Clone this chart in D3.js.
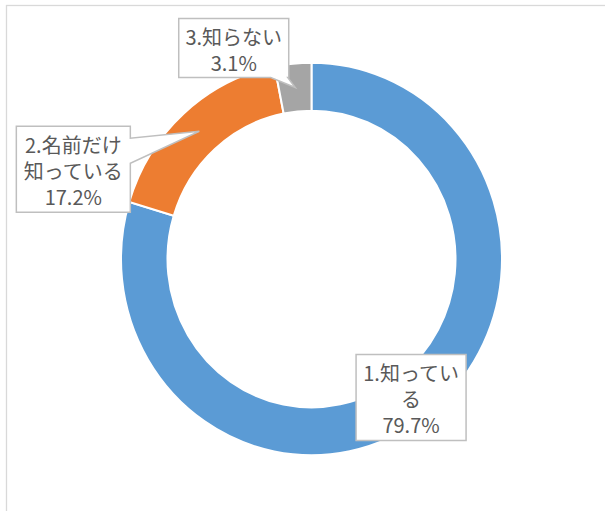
<!DOCTYPE html>
<html>
<head>
<meta charset="utf-8">
<script src="https://cdn.jsdelivr.net/npm/d3@7"></script>
<style>
  html, body { margin: 0; padding: 0; background: #fff; }
  svg { display: block; }
</style>
</head>
<body>
<div id="chart"></div>
<script>
// データ
const categories = ["1.知っている", "2.名前だけ知っている", "3.知らない"];
const values = [79.7, 17.2, 3.1];
const labelLines = [
    ["1.知ってい", "る", "79.7%"],
    ["2.名前だけ", "知っている", "17.2%"],
    ["3.知らない", "3.1%"]
];
const colors = ["#5B9BD5", "#ED7D31", "#A5A5A5"];

const W = 605, H = 511;
const cx = 311.5, cy = 259;
const outerR = 190.5, innerR = 144, yScale = 1.03;

// ラベル枠の配置（重心からのずれ・サイズ・吹き出しの向き）
const labelLayout = [
    { dx: 0, dy: 0, w: 110, h: 86, tail: null },
    { dx: -126, dy: 38, w: 114, h: 86, tail: "right" },
    { dx: -61.5, dy: -39.5, w: 110, h: 59, tail: "bottom" }
];

const svg = d3.select("#chart")
    .append("svg")
    .attr("width", W)
    .attr("height", H);

// 外枠
svg.append("rect")
    .attr("x", 6.5).attr("y", 5.5)
    .attr("width", W + 10).attr("height", H + 10)
    .attr("fill", "#fff")
    .attr("stroke", "#d9d9d9")
    .attr("stroke-width", 1.3);

const data = categories.map((c, i) => ({ name: c, value: values[i], lines: labelLines[i] }));

const pie = d3.pie().value(d => d.value).sort(null);
const arcs = pie(data);

const arc = d3.arc().innerRadius(innerR).outerRadius(outerR);

const g = svg.append("g")
    .attr("transform", `translate(${cx},${cy}) scale(1,${yScale})`);

g.selectAll("path.slice")
    .data(arcs)
    .enter()
    .append("path")
    .attr("class", "slice")
    .attr("d", arc)
    .attr("fill", (d, i) => colors[i])
    .attr("stroke", "#fff")
    .attr("stroke-width", 2);

// 吹き出しラベル
const lg = svg.append("g");

arcs.forEach((a, i) => {
    const c = arc.centroid(a);
    const tip = [cx + c[0], cy + c[1] * yScale];
    const L = labelLayout[i];
    const bx = tip[0] + L.dx, by = tip[1] + L.dy;
    const x0 = bx - L.w / 2, x1 = bx + L.w / 2;
    const y0 = by - L.h / 2, y1 = by + L.h / 2;

    let p = d3.path();
    if (L.tail === "right") {
        p.moveTo(x0, y0); p.lineTo(x1, y0);
        p.lineTo(x1, y0 + 12);
        p.lineTo(tip[0], tip[1]);
        p.lineTo(x1, y0 + 37);
        p.lineTo(x1, y1); p.lineTo(x0, y1);
        p.closePath();
    } else if (L.tail === "bottom") {
        p.moveTo(x0, y0); p.lineTo(x1, y0);
        p.lineTo(x1, y1);
        p.lineTo(x1 - 1, y1);
        p.lineTo(tip[0], tip[1]);
        p.lineTo(x1 - 18, y1);
        p.lineTo(x0, y1);
        p.closePath();
    } else {
        p.rect(x0, y0, L.w, L.h);
    }

    lg.append("path")
        .attr("d", p.toString())
        .attr("fill", "#fff")
        .attr("stroke", "#bfbfbf")
        .attr("stroke-width", 1.5)
        .attr("stroke-linejoin", "miter");

    const lh = 26;
    const n = a.data.lines.length;
    lg.selectAll(null)
        .data(a.data.lines)
        .enter()
        .append("text")
        .attr("x", bx)
        .attr("y", (d, j) => by + 1.5 + (j - (n - 1) / 2) * lh)
        .attr("text-anchor", "middle")
        .attr("dominant-baseline", "central")
        .style("font-family", "'Noto Sans CJK JP', 'Noto Sans', sans-serif")
        .style("font-size", "20px")
        .style("fill", "#595959")
        .text(d => d);
});
</script>
</body>
</html>
